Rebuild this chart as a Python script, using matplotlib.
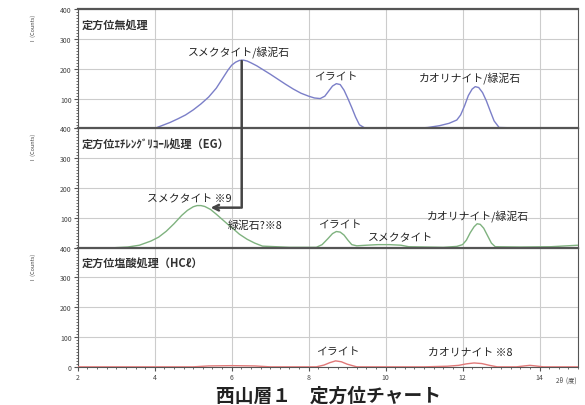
import matplotlib
matplotlib.use("Agg")
import matplotlib.pyplot as plt
from matplotlib.patches import ConnectionPatch
from matplotlib.ticker import MultipleLocator, FixedLocator

plt.rcParams['font.family'] = ['Noto Sans CJK JP', 'DejaVu Sans']

# --- Daten ---
panel_titles = ["定方位無処理", "定方位ｴﾁﾚﾝｸﾞﾘｺｰﾙ処理（EG）", "定方位塩酸処理（HCℓ）"]

blue_x = [4.0, 4.2, 4.4, 4.6, 4.8, 5.0, 5.2, 5.4, 5.6, 5.75, 5.9, 6.0, 6.1, 6.2,
          6.3, 6.4, 6.5, 6.65, 6.8, 7.0, 7.2, 7.4, 7.6, 7.8, 8.0, 8.15, 8.3,
          8.42, 8.52, 8.62, 8.72, 8.82, 8.92, 9.02, 9.12, 9.22, 9.32, 9.45,
          10.0, 10.8, 11.1, 11.4, 11.65, 11.85, 11.95, 12.05, 12.15, 12.25,
          12.33, 12.42, 12.52, 12.62, 12.72, 12.82, 12.95, 13.5, 14.0]
blue_y = [0, 10, 20, 32, 45, 62, 82, 105, 135, 165, 195, 212, 222, 228,
          229, 226, 220, 210, 198, 182, 165, 148, 132, 118, 108, 102, 100,
          108, 125, 142, 150, 147, 128, 100, 70, 38, 12, 2,
          0, 0, 3, 9, 17, 28, 45, 75, 110, 132,
          140, 137, 120, 92, 58, 25, 3, 1, 1]

green_x = [3.0, 3.3, 3.6, 3.9, 4.1, 4.3, 4.5, 4.7, 4.85, 5.0, 5.1, 5.2, 5.3,
           5.45, 5.6, 5.75, 5.9, 6.05, 6.2, 6.4, 6.6, 6.8, 7.5, 8.2, 8.35,
           8.5, 8.62, 8.72, 8.82, 8.92, 9.02, 9.12, 9.25, 9.5, 9.8, 10.1, 10.4,
           10.6, 11.5, 11.85, 12.0, 12.1, 12.2, 12.3, 12.38, 12.46, 12.55,
           12.65, 12.75, 12.85, 13.5, 14.3, 15.0]
green_y = [0, 2, 8, 22, 35, 55, 80, 108, 125, 137, 141, 141, 138,
           128, 112, 95, 78, 62, 45, 28, 15, 5, 1, 1, 10,
           30, 47, 54, 52, 42, 25, 10, 6, 8, 10, 10, 8,
           3, 1, 4, 10, 25, 50, 70, 80, 78, 65,
           40, 15, 3, 2, 3, 8]

red_x = [2.0, 5.0, 5.4, 6.0, 6.6, 7.0, 8.2, 8.4, 8.55, 8.7, 8.85, 9.0, 9.25,
         11.0, 11.6, 11.9, 12.1, 12.3, 12.5, 12.7, 12.9, 13.4, 13.6, 13.75,
         13.9, 14.1, 15.0]
red_y = [0, 0, 3, 4, 3, 0, 0, 6, 14, 20, 17, 9, 0,
         0, 2, 5, 10, 13, 11, 5, 0, 0, 3, 5, 3, 0, 0]

x_ticks = [2, 4, 6, 8, 10, 12, 14]
y_ticks = [0, 100, 200, 300, 400]

fig, axes = plt.subplots(3, 1, figsize=(5.85, 4.06), dpi=100, sharex=True)
fig.subplots_adjust(left=0.133, right=0.988, top=0.975, bottom=0.094, hspace=0)

series = [(blue_x, blue_y, '#7b7fc8'), (green_x, green_y, '#7fb27f'),
          (red_x, red_y, '#e07878')]

for i, (ax, (sx, sy, col)) in enumerate(zip(axes, series)):
    ax.plot(sx, sy, color=col, lw=1.0, zorder=3)
    ax.set_xlim(2, 15)
    ax.set_ylim(0, 400)
    ax.xaxis.set_major_locator(FixedLocator(x_ticks))
    ax.xaxis.set_minor_locator(MultipleLocator(0.25))
    ax.yaxis.set_major_locator(FixedLocator(y_ticks))
    ax.yaxis.set_minor_locator(MultipleLocator(10))
    ax.grid(True, which='major', color='#cccccc', lw=0.8)
    ax.tick_params(axis='both', which='major', labelsize=5, length=3,
                   color='#555555', labelcolor='#444444', pad=1.5)
    ax.tick_params(axis='both', which='minor', length=1.5, color='#555555')
    for sp in ax.spines.values():
        sp.set_color('#555555')
        sp.set_linewidth(0.8)
    ax.spines['top'].set_linewidth(1.6)
    ax.text(0.008, 0.92, panel_titles[i], transform=ax.transAxes, fontsize=8,
            fontweight='bold', color='#333333', va='top', ha='left', zorder=5)
    ax.text(-0.09, 0.85, "I  (Counts)", transform=ax.transAxes, fontsize=4,
            rotation=90, va='center', ha='center', color='#444444')
    if i < 2:
        ax.set_yticklabels(["", "100", "200", "300", "400"])
    else:
        ax.set_yticklabels(["0", "100", "200", "300", "400"])

# Beschriftungen der Peaks
lab = dict(fontsize=7.8, color='#222222', ha='center', va='center', zorder=6)
axes[0].text(6.2, 258, "スメクタイト/緑泥石", **lab)
axes[0].text(8.7, 175, "イライト", **lab)
axes[0].text(12.2, 172, "カオリナイト/緑泥石", **lab)

axes[1].text(4.9, 165, "スメクタイト ※9", **lab)
axes[1].text(6.6, 78, "緑泥石?※8", **lab)
axes[1].text(8.8, 78, "イライト", **lab)
axes[1].text(10.4, 35, "スメクタイト", **lab)
axes[1].text(12.4, 110, "カオリナイト/緑泥石", **lab)

axes[2].text(8.75, 50, "イライト", **lab)
axes[2].text(12.2, 50, "カオリナイト ※8", **lab)

# Pfeil vom Peak (unbehandelt) zum EG-Peak
con = ConnectionPatch(xyA=(6.26, 226), coordsA=axes[0].transData,
                      xyB=(6.26, 134), coordsB=axes[1].transData,
                      color='#444444', lw=1.8, zorder=10)
fig.add_artist(con)
axes[1].annotate("", xy=(5.38, 134), xytext=(6.29, 134),
                 arrowprops=dict(arrowstyle='->', color='#444444', lw=1.8),
                 zorder=10)

axes[2].text(14.7, -42, "2θ  (度)", fontsize=4.5, color='#444444',
             ha='center', va='center')
fig.text(0.562, 0.025, "西山層１　定方位チャート", fontsize=13.5, fontweight='bold',
         color='#222222', ha='center', va='center')

plt.savefig("out.png", dpi=100)
